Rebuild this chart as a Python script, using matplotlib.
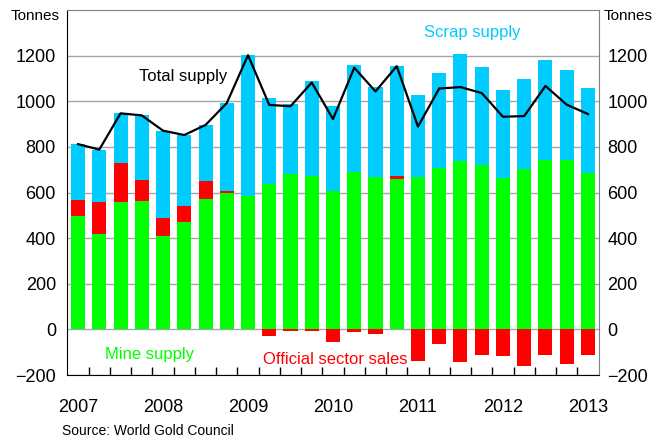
import numpy as np
import matplotlib.pyplot as plt

plt.rcParams['font.family'] = ['Liberation Sans', 'DejaVu Sans']

# Quarterly gold supply, 2007 Q1 - 2013 Q1 (tonnes)
quarters = ['2007Q1', '2007Q2', '2007Q3', '2007Q4', '2008Q1', '2008Q2', '2008Q3', '2008Q4',
            '2009Q1', '2009Q2', '2009Q3', '2009Q4', '2010Q1', '2010Q2', '2010Q3', '2010Q4',
            '2011Q1', '2011Q2', '2011Q3', '2011Q4', '2012Q1', '2012Q2', '2012Q3', '2012Q4',
            '2013Q1']
mine = [496, 416, 559, 563, 410, 471, 572, 598,
        586, 638, 683, 673, 606, 689, 670, 659,
        670, 708, 740, 722, 662, 705, 741, 743,
        687]
official = [72, 144, 169, 92, 78, 69, 79, 9,
            0, -30, -8, -8, -57, -13, -20, 15,
            -140, -66, -143, -112, -117, -161, -112, -150,
            -112]
scrap = [244, 228, 219, 283, 383, 312, 245, 385,
         616, 376, 303, 417, 373, 471, 393, 480,
         359, 414, 465, 426, 387, 391, 438, 392,
         369]
year_labels = ['2007', '2008', '2009', '2010', '2011', '2012', '2013']

green = '#00ff00'
red = '#ff0000'
blue = '#00ccff'

mine = np.array(mine)
official = np.array(official)
scrap = np.array(scrap)
total = mine + official + scrap
x = np.arange(len(quarters))
w = 0.66

fig = plt.figure(figsize=(6.54, 4.37), dpi=100)
ax = fig.add_axes([67 / 654, 1 - 375 / 437, 532 / 654, 365 / 437])

off_pos = np.clip(official, 0, None)
off_neg = np.clip(official, None, 0)

ax.bar(x, mine, w, color=green, zorder=2)
ax.bar(x, off_pos, w, bottom=mine, color=red, zorder=2)
ax.bar(x, off_neg, w, color=red, zorder=2)
ax.bar(x, scrap, w, bottom=mine + off_pos, color=blue, zorder=2)
ax.plot(x, total, color='black', lw=1.6, zorder=3)

ax.set_xlim(-0.52, len(quarters) - 0.48)
ax.set_ylim(-200, 1400)
yt = np.arange(-200, 1201, 200)
ax.set_yticks(yt)
ax.yaxis.grid(True, color='#a6a6a6', lw=1, zorder=0)
ax.set_axisbelow(True)
ax.tick_params(axis='y', length=0, labelsize=13, pad=8)

# year labels sit under the first quarter of each year, ticks between bars
ax.set_xticks(x[:-1] + 0.5)
ax.set_xticklabels([])
ax.tick_params(axis='x', direction='in', length=6, width=1, color='black')
for i, yl in enumerate(year_labels):
    ax.text(4 * i, -0.09, yl, transform=ax.get_xaxis_transform(),
            ha='center', va='center', fontsize=13)

for s in ['left', 'bottom']:
    ax.spines[s].set_color('black')
for s in ['top', 'right']:
    ax.spines[s].set_color('#808080')

ax2 = ax.twinx()
ax2.set_ylim(ax.get_ylim())
ax2.set_yticks(yt)
ax2.tick_params(axis='y', length=0, labelsize=13, pad=6)
for s in ax2.spines.values():
    s.set_visible(False)

fig.text(35 / 654, 1 - 16 / 437, 'Tonnes', ha='center', va='center', fontsize=11)
fig.text(628 / 654, 1 - 16 / 437, 'Tonnes', ha='center', va='center', fontsize=11)

fig.text(472 / 654, 1 - 33 / 437, 'Scrap supply', ha='center', va='center', fontsize=12, color=blue)
fig.text(139 / 654, 1 - 76 / 437, 'Total supply', ha='left', va='center', fontsize=12)
fig.text(105 / 654, 1 - 354 / 437, 'Mine supply', ha='left', va='center', fontsize=12, color=green)
fig.text(263 / 654, 1 - 360 / 437, 'Official sector sales', ha='left', va='center', fontsize=12, color=red)
fig.text(62 / 654, 1 - 431 / 437, 'Source: World Gold Council', ha='left', va='center', fontsize=10)

fig.savefig('out.png', dpi=100)
